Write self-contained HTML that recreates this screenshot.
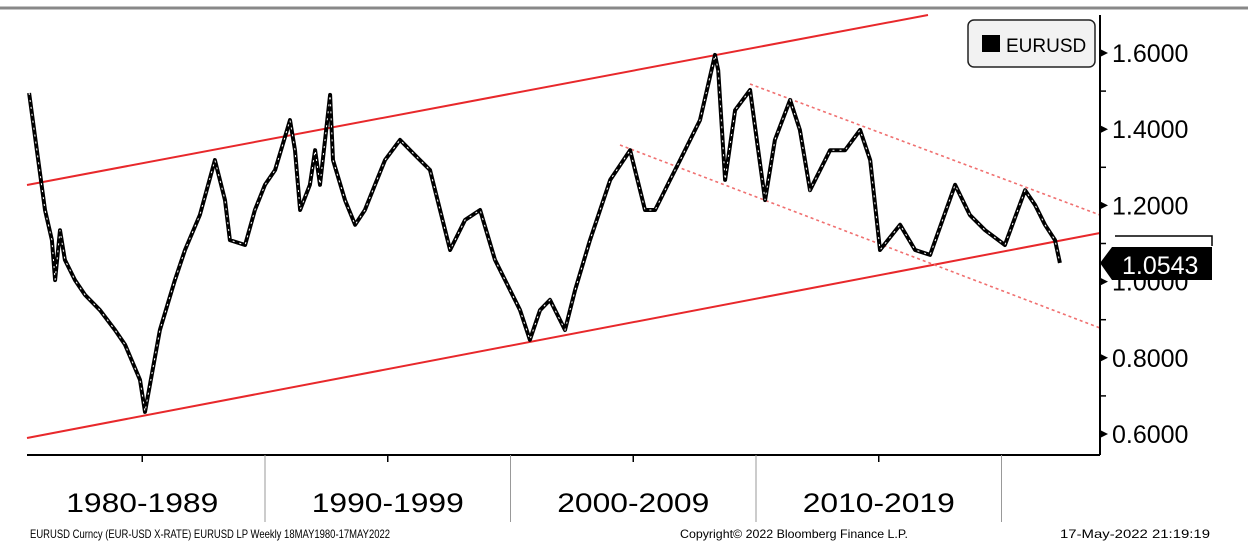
<!DOCTYPE html>
<html><head><meta charset="utf-8"><style>
body{margin:0;background:#fff;}
svg{display:block;font-family:"Liberation Sans","DejaVu Sans",sans-serif;}
</style></head><body>
<svg id="chart" width="1248" height="557" viewBox="0 0 1248 557">
<rect x="0" y="0" width="1248" height="557" fill="#fff"/>
<line x1="0" y1="8" x2="1248" y2="8" stroke="#888" stroke-width="3"/>
<g id="grid"></g>
<g id="trend">
<line x1="27" y1="185" x2="928" y2="15" stroke="#e8282b" stroke-width="2"/>
<line x1="27" y1="438" x2="1100" y2="233" stroke="#e8282b" stroke-width="2"/>
<line x1="620" y1="145" x2="1100" y2="328" stroke="#f07070" stroke-width="1.6" stroke-dasharray="3,3"/>
<line x1="750" y1="84" x2="1100" y2="215" stroke="#f07070" stroke-width="1.6" stroke-dasharray="3,3"/>
</g>
<g id="series"></g>
<line x1="1100" y1="15" x2="1100" y2="455" stroke="#000" stroke-width="2"/>
<line x1="27" y1="455" x2="1100" y2="455" stroke="#000" stroke-width="2"/>
<g id="yaxis"></g>
<g id="xaxis"></g>
<g>
<rect x="968" y="20" width="127" height="47" rx="6" fill="#f2f2f2" stroke="#222" stroke-width="1.5"/>
<rect x="982" y="35" width="18" height="17" fill="#000"/>
<text x="1006" y="52" font-size="19" fill="#000">EURUSD</text>
</g>
<g>
<path d="M1115,236 L1212,236 L1212,246" fill="none" stroke="#000" stroke-width="1.5"/>
<path d="M1100,263 L1112,247 L1212,247 L1212,280 L1112,280 Z" fill="#000"/>
<text x="1122" y="274" font-size="25" fill="#fff">1.0543</text>
</g>
<g font-size="12" fill="#000">
<text x="30" y="538" textLength="360" lengthAdjust="spacingAndGlyphs">EURUSD Curncy (EUR-USD X-RATE) EURUSD LP  Weekly 18MAY1980-17MAY2022</text>
<text x="680" y="538" textLength="228" lengthAdjust="spacingAndGlyphs">Copyright© 2022 Bloomberg Finance L.P.</text>
<text x="1060" y="538" textLength="150" lengthAdjust="spacingAndGlyphs">17-May-2022 21:19:19</text>
</g>
</svg>
<script>
const years=[1980.39,1981.04,1981.32,1981.45,1981.65,1981.85,1982.26,1982.67,1983.28,1983.89,1984.30,1984.91,1985.11,1985.72,1986.33,1986.74,1987.35,1987.96,1988.37,1988.57,1989.19,1989.59,1990.0,1990.41,1991.02,1991.22,1991.43,1991.83,1992.04,1992.24,1992.65,1992.77,1993.26,1993.67,1994.07,1994.48,1994.89,1995.50,1996.11,1996.72,1997.54,1998.15,1998.76,1999.37,1999.98,2000.39,2000.79,2001.20,2001.61,2002.22,2002.63,2003.24,2004.06,2004.87,2005.48,2005.89,2006.50,2006.91,2007.72,2008.33,2008.46,2008.74,2009.15,2009.76,2010.09,2010.37,2010.77,2011.39,2011.79,2012.20,2013.02,2013.63,2014.24,2014.65,2015.05,2015.87,2016.48,2017.09,2018.11,2018.71,2019.33,2020.14,2020.96,2021.37,2021.77,2022.18,2022.38];
const rates=[1.495,1.188,1.109,1.004,1.135,1.057,1.004,0.965,0.925,0.873,0.834,0.742,0.658,0.873,1.004,1.083,1.175,1.319,1.214,1.109,1.096,1.188,1.254,1.293,1.424,1.345,1.188,1.254,1.345,1.254,1.490,1.319,1.214,1.149,1.188,1.254,1.319,1.372,1.332,1.293,1.083,1.162,1.188,1.057,0.978,0.925,0.847,0.925,0.952,0.873,0.978,1.109,1.267,1.345,1.188,1.188,1.267,1.319,1.424,1.595,1.555,1.267,1.450,1.503,1.345,1.214,1.372,1.477,1.398,1.240,1.345,1.345,1.398,1.319,1.083,1.149,1.083,1.070,1.254,1.175,1.135,1.096,1.240,1.201,1.149,1.109,1.049];
const yTicks=[0.6,0.8,1.0,1.2,1.4,1.6];
const yTickLabels=["0.6000","0.8000","1.0000","1.2000","1.4000","1.6000"];
const decades=["1980-1989","1990-1999","2000-2009","2010-2019"];
const decadeStarts=[1980,1990,2000,2010,2020];

const NS="http://www.w3.org/2000/svg";
const X=yr=>19.5+(yr-1980)*24.55;
const Y=v=>434-(v-0.6)*381;
function mk(tag,attrs,parent){const e=document.createElementNS(NS,tag);for(const k in attrs)e.setAttribute(k,attrs[k]);parent.appendChild(e);return e;}

const s=document.getElementById('series');
let d=years.map((yr,i)=>(i?'L':'M')+X(yr).toFixed(1)+','+Y(rates[i]).toFixed(1)).join(' ');
const p1=mk('path',{d:d,fill:'none',stroke:'#000','stroke-width':4,'stroke-linejoin':'round'},s);


const p2=mk('path',{d:d,fill:'none',stroke:'#fff','stroke-width':1,'stroke-dasharray':'2,5'},s);



const ya=document.getElementById('yaxis');
yTicks.forEach((v,i)=>{
  const y=Y(v);
  mk('path',{d:`M1100,${y-4} L1108,${y} L1100,${y+4} Z`,fill:'#000'},ya);
  if(i<yTicks.length-1) mk('line',{x1:1100,y1:Y(v+0.1),x2:1106,y2:Y(v+0.1),stroke:'#000','stroke-width':1.5},ya);
  const t=mk('text',{x:1112,y:y+9,'font-size':25,fill:'#000'},ya);
  t.textContent=yTickLabels[i];
  
  
});

const xa=document.getElementById('xaxis');
decadeStarts.forEach((yr,i)=>{
  if(yr>1980) mk('line',{x1:X(yr),y1:455,x2:X(yr),y2:522,stroke:'#999','stroke-width':1},xa);
  if(i<decades.length){
    mk('line',{x1:X(yr+5),y1:455,x2:X(yr+5),y2:462,stroke:'#000','stroke-width':1.5},xa);
    const t=mk('text',{x:X(yr+5),y:512,'font-size':27,'text-anchor':'middle',fill:'#000',textLength:152,lengthAdjust:'spacingAndGlyphs'},xa);
    t.textContent=decades[i];
    
    
  }
});
</script>
</body></html>
